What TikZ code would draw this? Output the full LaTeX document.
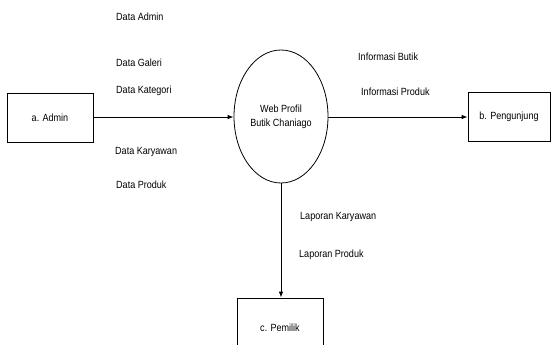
\documentclass[tikz,border=0pt]{standalone}
\usepackage{fontspec}
\setmainfont[FakeStretch=0.87]{Liberation Sans}
\usetikzlibrary{arrows.meta,shapes.geometric}
\begin{document}
\begin{tikzpicture}[x=1pt,y=-1pt,
  every node/.style={font=\fontsize{10.4}{14}\selectfont, inner sep=0pt},
  entity/.style={draw, line width=0.8pt, minimum width=86pt, minimum height=49pt},
  process/.style={draw, line width=0.8pt, ellipse, minimum width=94pt, minimum height=133pt, align=center},
  flowlabel/.style={anchor=west},
  flow/.style={line width=0.8pt, -{Latex[length=6pt,width=4.5pt]}}]
  \useasboundingbox (0,0) rectangle (551,345);

  % external entities and the process
  \node[entity] (admin) at (50,117.5) {a. Admin};
  \node[entity, minimum width=82pt] (pengunjung) at (509,117) {b. Pengunjung};
  \node[entity, minimum height=60pt] (pemilik) at (280,328) {c. Pemilik};
  \node[process] (web) at (281,116.5) {Web Profil\\Butik Chaniago};

  % data flows
  \draw[flow] (admin.east |- 0,117) -- (web.west |- 0,117);
  \draw[flow] (web.east |- 0,117) -- (pengunjung.west |- 0,117);
  \draw[flow] (web.south -| 281,0) -- (pemilik.north -| 281,0);

  % flow labels
  \node[flowlabel] (l1) at (116,17) {Data Admin};
  \node[flowlabel] (l2) at (116,63) {Data Galeri};
  \node[flowlabel] (l3) at (116,91) {Data Kategori};
  \node[flowlabel] (l4) at (115,152) {Data Karyawan};
  \node[flowlabel] (l5) at (116,185) {Data Produk};
  \node[flowlabel] (l6) at (358,57) {Informasi Butik};
  \node[flowlabel] (l7) at (361,92) {Informasi Produk};
  \node[flowlabel] (l8) at (300,217) {Laporan Karyawan};
  \node[flowlabel] (l9) at (299,255) {Laporan Produk};
\end{tikzpicture}
\end{document}
